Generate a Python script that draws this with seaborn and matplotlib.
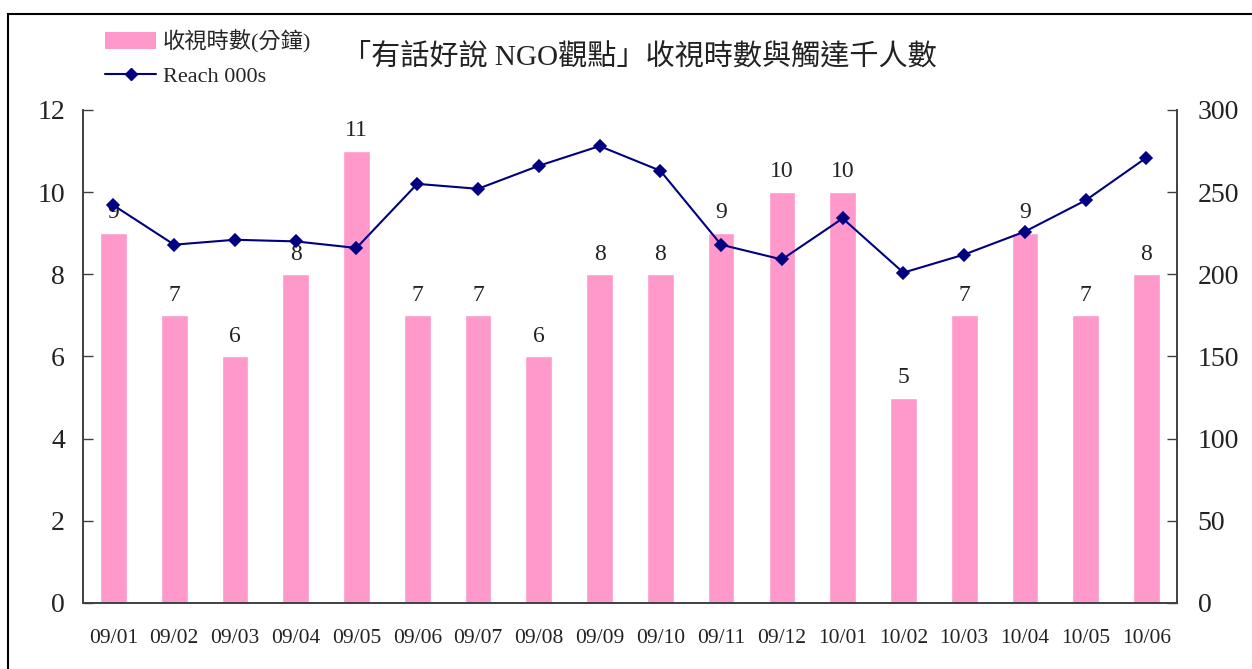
import numpy as np
import pandas as pd
import matplotlib
matplotlib.use('Agg')
import matplotlib.pyplot as plt
import matplotlib.patches as patches
from matplotlib.lines import Line2D
import seaborn as sns

# data
dates = ['09/01', '09/02', '09/03', '09/04', '09/05', '09/06', '09/07', '09/08', '09/09',
         '09/10', '09/11', '09/12', '10/01', '10/02', '10/03', '10/04', '10/05', '10/06']
minutes = [9, 7, 6, 8, 11, 7, 7, 6, 8, 8, 9, 10, 10, 5, 7, 9, 7, 8]
reach = [242, 218, 221, 220, 216, 255, 252, 266, 278, 263, 218, 209, 234, 201, 212, 226, 245, 271]

bar_name = '收視時數(分鐘)'
line_name = 'Reach 000s'
title = '「有話好說 NGO觀點」收視時數與觸達千人數'

df = pd.DataFrame({'date': dates, 'minutes': minutes, 'reach': reach})

sns.set_style('white')
plt.rcParams['font.family'] = ['Liberation Serif', 'Noto Sans CJK TC', 'DejaVu Sans']

bar_color = '#FF99CC'
line_color = '#000080'

fig = plt.figure(figsize=(12.52, 6.69), dpi=100)
ax = fig.add_axes([0.0663, 0.0987, 0.8737, 0.737])

sns.barplot(data=df, x='date', y='minutes', order=dates, color=bar_color,
            width=0.44, saturation=1, ax=ax)
ax.bar_label(ax.containers[0], fontsize=17, padding=7, color='#222222')

ax2 = ax.twinx()
sns.pointplot(data=df, x='date', y='reach', order=dates, color=line_color,
              markers='D', markersize=6, linewidth=1.5, ax=ax2)

ax.set_ylim(0, 12)
ax.set_yticks(np.arange(0, 13, 2))
ax2.set_ylim(0, 300)
ax2.set_yticks(np.arange(0, 301, 50))
ax.set_xlim(-0.5, len(dates) - 0.5)

ax.set_xlabel('')
ax.set_ylabel('')
ax2.set_ylabel('')

for a in (ax, ax2):
    a.spines['top'].set_visible(False)
    for s in ('left', 'right', 'bottom'):
        a.spines[s].set_color('#404040')
        a.spines[s].set_linewidth(1.2)

ax.tick_params(axis='y', direction='in', length=7, width=1, labelsize=20,
               pad=13, colors='#404040', labelcolor='#222222')
ax2.tick_params(axis='y', direction='in', length=7, width=1, labelsize=20,
                pad=15, colors='#404040', labelcolor='#222222')
ax.tick_params(axis='x', which='major', length=0, labelsize=15.5, pad=19,
               labelcolor='#222222')
ax.set_xticks(np.arange(len(dates) - 1) + 0.5, minor=True)
ax.tick_params(axis='x', which='minor', direction='in', length=6, width=1,
               colors='#404040')

fig.text(0.511, 0.915, title, ha='center', va='center', fontsize=21,
         color='#222222')

handles = [patches.Patch(facecolor=bar_color, edgecolor='none'),
           Line2D([0], [0], color=line_color, marker='D', markersize=6, linewidth=1.5)]
fig.legend(handles, [bar_name, line_name], loc='upper left',
           bbox_to_anchor=(0.068, 0.986), frameon=False, fontsize=16,
           handlelength=2.3, handleheight=0.8, labelspacing=0.6,
           handletextpad=0.3)

frame = patches.Rectangle((0.006, -0.05), 1.05, 1.029, transform=fig.transFigure,
                          fill=False, edgecolor='black', linewidth=1.5)
fig.patches.append(frame)

fig.savefig('out.png', dpi=100)
